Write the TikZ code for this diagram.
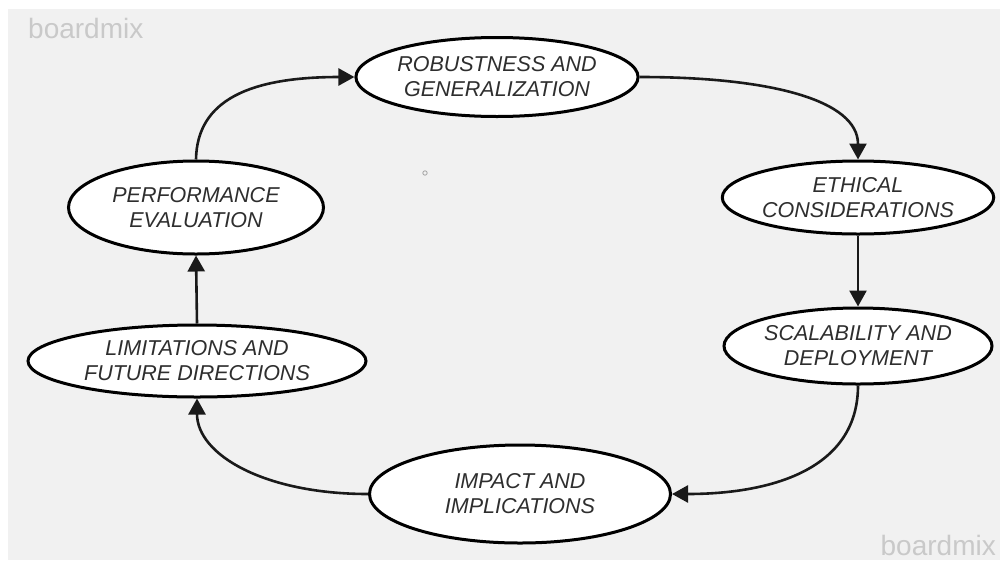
\documentclass[tikz,border=0pt]{standalone}
\usepackage{fontspec}
\setmainfont{Liberation Sans}
\usetikzlibrary{shapes.geometric,arrows.meta}
\definecolor{canvas}{HTML}{F1F1F1}
\definecolor{inkline}{HTML}{1A1A1A}
\definecolor{labeltext}{HTML}{2E2E2E}
\definecolor{marktext}{HTML}{C9C9C9}
\begin{document}
\begin{tikzpicture}[x=1pt,y=-1pt,
  stage/.style={ellipse, draw=black, line width=3pt, fill=white, inner sep=0pt,
    text=labeltext, align=center,
    font=\fontsize{21.5}{25}\selectfont\itshape},
  flow/.style={draw=inkline, line width=2.6pt,
    -{Triangle[length=16pt,width=17pt]}},
  watermark/.style={text=marktext, font=\fontsize{28}{28}\selectfont, inner sep=0pt}
]
% page and canvas
\useasboundingbox (0,0) rectangle (1000,560);
\fill[white] (0,0) rectangle (1000,560);
\fill[canvas] (8,9) rectangle (1000,560);

% watermarks
\node[watermark, anchor=base west] (wmtop) at (28,38) {boardmix};
\node[watermark, anchor=base east] (wmbottom) at (996,555) {boardmix};

% small stray ring
\draw[gray!70, line width=0.8pt] (425,173) circle (2.2);

% stages of the cycle
\node[stage, minimum width=279pt, minimum height=79pt] (rob) at (497,77)
  {ROBUSTNESS AND\\GENERALIZATION};
\node[stage, minimum width=271pt, minimum height=73pt] (eth) at (858,197.5)
  {ETHICAL\\CONSIDERATIONS};
\node[stage, minimum width=268pt, minimum height=76pt] (sca) at (858,346)
  {SCALABILITY AND\\DEPLOYMENT};
\node[stage, minimum width=301pt, minimum height=98pt] (imp) at (520,494)
  {IMPACT AND\\IMPLICATIONS};
\node[stage, minimum width=338pt, minimum height=72pt] (lim) at (197,361)
  {LIMITATIONS AND\\FUTURE DIRECTIONS};
\node[stage, minimum width=255pt, minimum height=93pt] (perf) at (196,207.5)
  {PERFORMANCE\\EVALUATION};

% connectors
\draw[flow] (perf.north) .. controls (197,100) and (250,77) .. (rob.west);
\draw[flow] (rob.east) .. controls (770,77) and (858,100) .. (eth.north);
\draw[flow] (eth.south) -- (sca.north);
\draw[flow] (sca.south) .. controls (858,470) and (770,494) .. (imp.east);
\draw[flow] (imp.west) .. controls (265,494) and (197,455) .. (lim.south);
\draw[flow] (lim.north) -- (perf.south);
\end{tikzpicture}
\end{document}
